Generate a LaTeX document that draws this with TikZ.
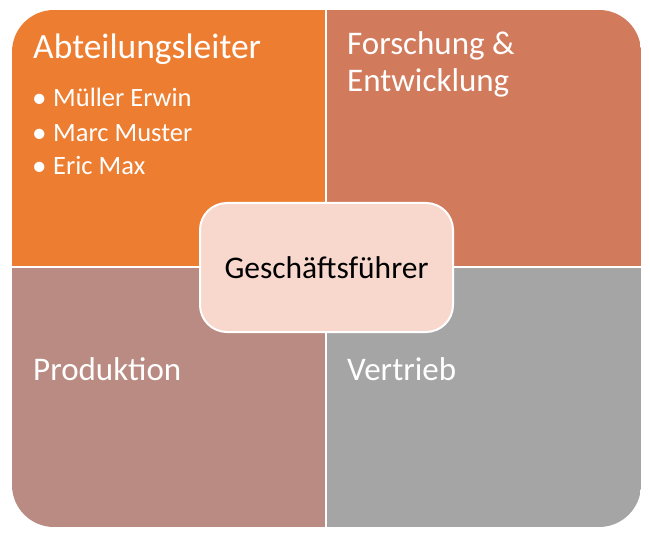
\documentclass[tikz,border=0pt]{standalone}
\usepackage{fontspec}
\setmainfont{Carlito}
\definecolor{qTL}{RGB}{237,125,49}
\definecolor{qTR}{RGB}{209,123,92}
\definecolor{qBL}{RGB}{185,139,130}
\definecolor{qBR}{RGB}{165,165,165}
\definecolor{cfill}{RGB}{248,216,205}
\tikzset{
  head/.style={anchor=base west, inner sep=0pt, text=white, font=\fontsize{33}{37}\selectfont},
  bigh/.style={anchor=base west, inner sep=0pt, text=white, font=\fontsize{35.5}{40}\selectfont},
  item/.style={anchor=base west, inner sep=0pt, text=white, font=\fontsize{26.5}{32}\selectfont},
  dot/.style={anchor=base west, inner sep=0pt, text=white, font=\fontsize{29}{32}\selectfont},
  center/.style={draw=white, line width=2pt, fill=cfill, rounded corners=27pt}
}
\begin{document}
\begin{tikzpicture}[x=1pt,y=-1pt]
\useasboundingbox (0,0) rectangle (650,537);
\begin{scope}
  \clip[rounded corners=42pt] (12,10) rectangle (641,527);
  \fill[qTL] (12,10) rectangle (326,267);
  \fill[qTR] (326,10) rectangle (641,267);
  \fill[qBL] (12,267) rectangle (326,527);
  \fill[qBR] (326,267) rectangle (641,527);
  \draw[white, line width=2pt] (326,0) -- (326,537);
  \draw[white, line width=2pt] (0,267) -- (650,267);
\end{scope}
\node[bigh] (t1) at (33,59) {Abteilungsleiter};
\node[dot] (b1) at (32,108) {•};
\node[item] (i1) at (53,107) {Müller Erwin};
\node[dot] (b2) at (32,143) {•};
\node[item] (i2) at (53,142) {Marc Muster};
\node[dot] (b3) at (32,176) {•};
\node[item] (i3) at (53,175) {Eric Max};
\node[head] (t2) at (347,55) {Forschung \&};
\node[head] (t2b) at (347,92) {Entwicklung};
\node[head] (t3) at (33,380) {Produktion};
\node[head] (t4) at (347,380) {Vertrieb};
\path[center] (200,203) rectangle (453,332);
\node[inner sep=0pt, font=\fontsize{31.5}{35}\selectfont] (gf) at (326.5,268) {Geschäftsführer};
\end{tikzpicture}
\end{document}
